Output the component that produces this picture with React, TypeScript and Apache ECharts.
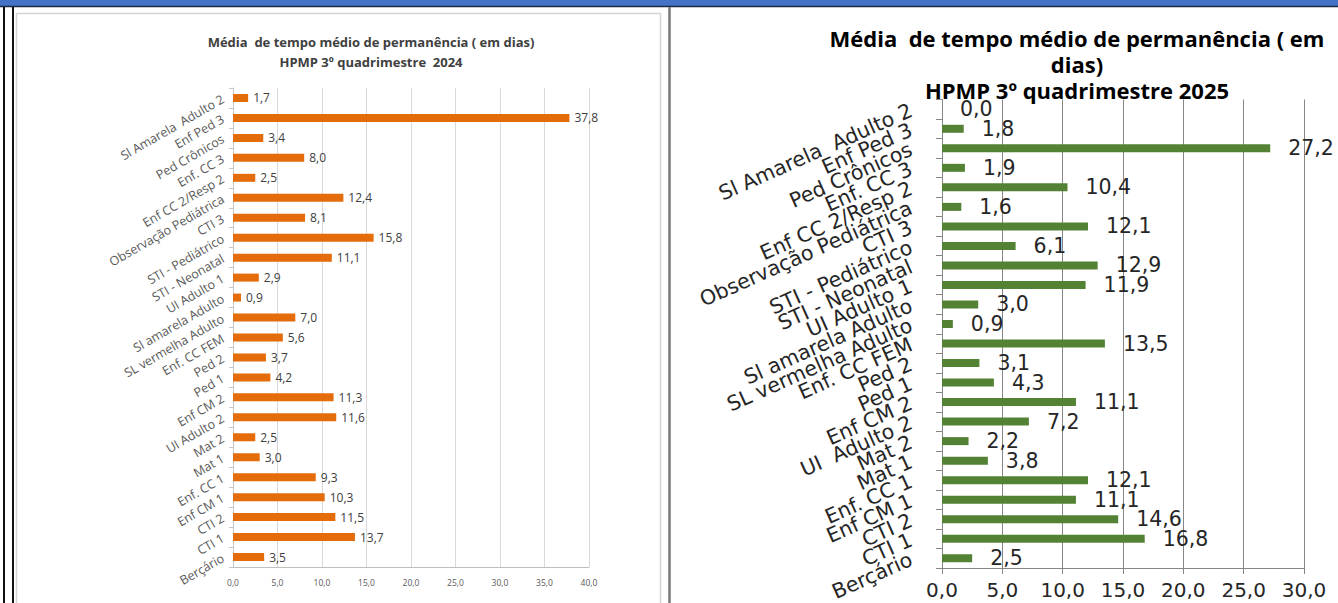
import React, { useEffect, useRef } from 'react';
import * as echarts from 'echarts';

const categories2024 = [
  'Sl Amarela  Adulto 2', 'Enf Ped 3', 'Ped Crônicos', 'Enf. CC 3', 'Enf CC 2/Resp 2',
  'Observação Pediátrica', 'CTI 3', 'STI - Pediátrico', 'STI - Neonatal', 'UI Adulto 1',
  'Sl amarela Adulto', 'SL vermelha Adulto', 'Enf. CC FEM', 'Ped 2', 'Ped 1',
  'Enf CM 2', 'UI Adulto 2', 'Mat 2', 'Mat 1', 'Enf. CC 1',
  'Enf CM 1', 'CTI 2', 'CTI 1', 'Berçário',
];
const values2024 = [
  1.7, 37.8, 3.4, 8.0, 2.5, 12.4, 8.1, 15.8, 11.1, 2.9, 0.9, 7.0,
  5.6, 3.7, 4.2, 11.3, 11.6, 2.5, 3.0, 9.3, 10.3, 11.5, 13.7, 3.5,
];

const categories2025 = [
  'Sl Amarela  Adulto 2', 'Enf Ped 3', 'Ped Crônicos', 'Enf. CC 3', 'Enf CC 2/Resp 2',
  'Observação Pediátrica', 'CTI 3', 'STI - Pediátrico', 'STI - Neonatal', 'UI Adulto 1',
  'Sl amarela Adulto', 'SL vermelha Adulto', 'Enf. CC FEM', 'Ped 2', 'Ped 1',
  'Enf CM 2', 'UI  Adulto 2', 'Mat 2', 'Mat 1', 'Enf. CC 1',
  'Enf CM 1', 'CTI 2', 'CTI 1', 'Berçário',
];
const values2025 = [
  0.0, 1.8, 27.2, 1.9, 10.4, 1.6, 12.1, 6.1, 12.9, 11.9, 3.0, 0.9,
  13.5, 3.1, 4.3, 11.1, 7.2, 2.2, 3.8, 12.1, 11.1, 14.6, 16.8, 2.5,
];

const axis2024 = { min: 0, max: 40, interval: 5 };
const axis2025 = { min: 0, max: 30, interval: 5 };

const title2024 = 'Média  de tempo médio de permanência ( em dias)\nHPMP 3º quadrimestre  2024';
const title2025 = 'Média  de tempo médio de permanência ( em\ndias)\nHPMP 3º quadrimestre 2025';

const fmt = (v: number) => Number(v).toFixed(1).replace('.', ',');

export default function App() {
  const ref = useRef<HTMLDivElement>(null);

  useEffect(() => {
    document.body.style.margin = '0';
    if (!ref.current) return;
    const chart = echarts.init(ref.current, undefined, { renderer: 'svg' });

    const option: any = {
      animation: false,
      backgroundColor: '#ffffff',
      title: [
        {
          text: title2024,
          left: 366,
          top: 27,
          textAlign: 'center',
          textStyle: {
            fontFamily: 'Open Sans',
            fontWeight: 'bold',
            fontSize: 13,
            lineHeight: 20,
            color: '#404040',
          },
        },
        {
          text: title2025,
          left: 1072,
          top: 20,
          textAlign: 'center',
          textStyle: {
            fontFamily: 'Open Sans',
            fontWeight: 'bold',
            fontSize: 22,
            lineHeight: 26,
            color: '#000000',
          },
        },
      ],
      grid: [
        { left: 233, top: 88, width: 356, height: 479, outerBoundsMode: 'none' },
        { left: 942, top: 99.5, width: 362, height: 468.5, outerBoundsMode: 'none' },
      ],
      xAxis: [
        {
          gridIndex: 0,
          type: 'value',
          ...axis2024,
          axisLine: { show: true, lineStyle: { color: '#bfbfbf' } },
          axisTick: { show: false },
          axisLabel: {
            formatter: fmt,
            fontFamily: 'Open Sans',
            fontSize: 8.5,
            color: '#595959',
            margin: 11,
          },
          splitLine: { show: true, lineStyle: { color: '#d9d9d9' } },
        },
        {
          gridIndex: 1,
          type: 'value',
          ...axis2025,
          axisLine: { show: true, lineStyle: { color: '#868686' } },
          axisTick: { show: true, length: 6, lineStyle: { color: '#868686' } },
          axisLabel: {
            formatter: fmt,
            fontFamily: 'DejaVu Sans',
            fontSize: 20,
            color: '#262626',
            margin: 12,
          },
          splitLine: { show: true, lineStyle: { color: '#868686' } },
        },
      ],
      yAxis: [
        {
          gridIndex: 0,
          type: 'category',
          inverse: true,
          data: categories2024,
          axisLine: { show: true, lineStyle: { color: '#c8c8c8' } },
          axisTick: { show: true, length: 4, lineStyle: { color: '#c8c8c8' } },
          axisLabel: {
            interval: 0,
            rotate: 30,
            fontFamily: 'Open Sans',
            fontSize: 12.5,
            color: '#595959',
            margin: 10,
          },
        },
        {
          gridIndex: 1,
          type: 'category',
          inverse: true,
          data: categories2025,
          axisLine: { show: true, lineStyle: { color: '#868686' } },
          axisTick: { show: true, length: 6, lineStyle: { color: '#868686' } },
          axisLabel: {
            interval: 0,
            rotate: 24,
            fontFamily: 'DejaVu Sans',
            fontSize: 20.5,
            color: '#262626',
            margin: 31,
          },
        },
      ],
      series: [
        {
          type: 'bar',
          xAxisIndex: 0,
          yAxisIndex: 0,
          data: values2024,
          barWidth: 8,
          itemStyle: { color: '#E46C0A' },
          label: {
            show: true,
            position: 'right',
            distance: 5,
            formatter: (p: any) => fmt(p.value),
            fontFamily: 'Open Sans',
            fontSize: 12,
            color: '#404040',
          },
        },
        {
          type: 'bar',
          xAxisIndex: 1,
          yAxisIndex: 1,
          data: values2025,
          barWidth: 8,
          itemStyle: { color: '#548235' },
          label: {
            show: true,
            position: 'right',
            distance: 18,
            formatter: (p: any) => fmt(p.value),
            fontFamily: 'DejaVu Sans',
            fontSize: 20.5,
            color: '#262626',
          },
        },
      ],
      graphic: [
        { type: 'rect', shape: { x: 0, y: 0, width: 1338, height: 6 }, style: { fill: '#4472C4' }, z: 10 },
        { type: 'line', shape: { x1: 0, y1: 6.5, x2: 1338, y2: 6.5 }, style: { stroke: '#1c2a44', lineWidth: 1.5 }, z: 10 },
        { type: 'line', shape: { x1: 4, y1: 7, x2: 4, y2: 603 }, style: { stroke: '#111111', lineWidth: 2 }, z: 10 },
        { type: 'line', shape: { x1: 13, y1: 7, x2: 13, y2: 603 }, style: { stroke: '#111111', lineWidth: 2 }, z: 10 },
        { type: 'rect', shape: { x: 16.5, y: 13.5, width: 644, height: 620 }, style: { fill: 'none', stroke: '#d4d4d4', lineWidth: 1.5 }, z: 10 },
        { type: 'line', shape: { x1: 669.5, y1: 7, x2: 669.5, y2: 603 }, style: { stroke: '#7a7a7a', lineWidth: 2.5 }, z: 10 },
      ],
    };

    chart.setOption(option);
    return () => chart.dispose();
  }, []);

  return <div ref={ref} style={{ width: 1338, height: 603 }} />;
}
